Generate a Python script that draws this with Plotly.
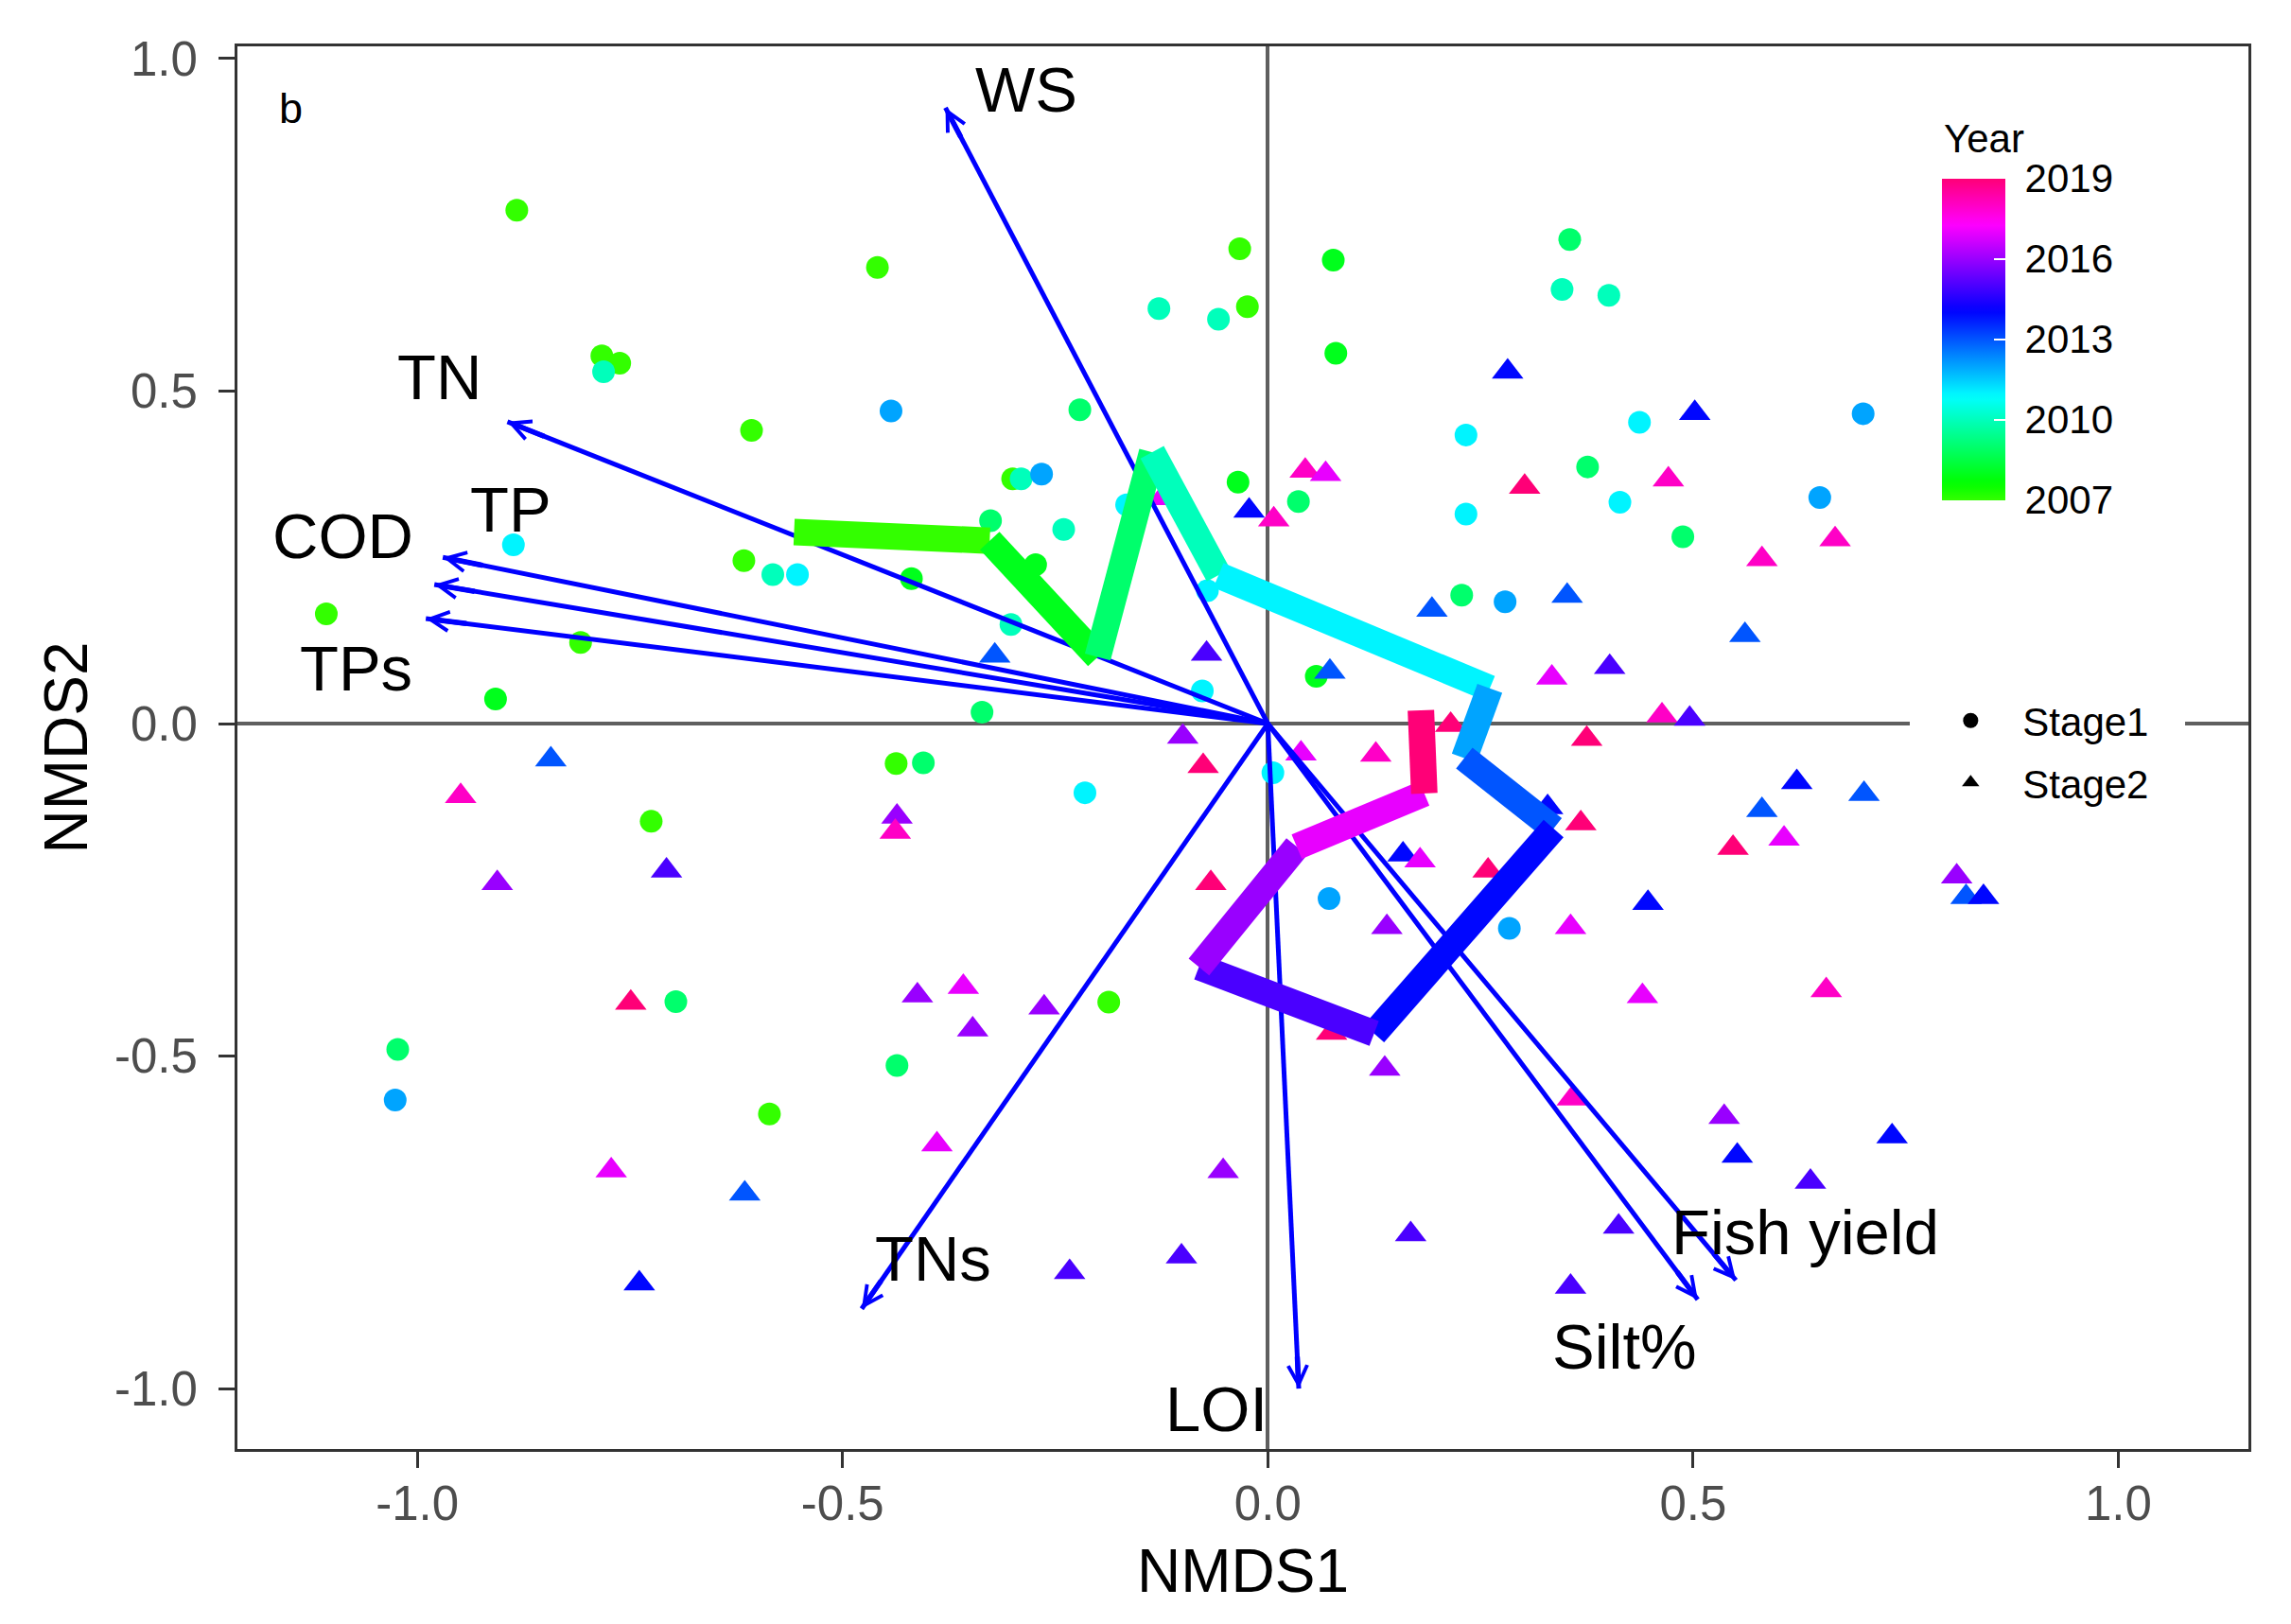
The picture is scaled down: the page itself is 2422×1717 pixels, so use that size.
import colorsys
import plotly.graph_objects as go

# ---------------- data ----------------
# Stage1 samples (circles)
s1_x = [-0.883, -0.459, -0.783, -0.762, -0.781, -0.443, -0.607, -0.033, 0.077, -0.128,
        -0.058, -0.024, 0.080, 0.355, 0.346, 0.233, -0.221, -0.035, -0.300, -0.290,
        -0.266, 0.036, 0.233, 0.376, -0.326, -0.166, -0.240, -0.273, -0.419, -0.302,
        -0.336, -0.077, -0.071, 0.057, 0.228, 0.279, 0.006, -0.215, -0.405, -0.437,
        0.072, 0.284, 0.401, 0.437, 0.700, 0.414, 0.649, 0.488, -0.887, -0.616,
        -0.582, -0.553, -1.107, -0.808, -0.908, -0.725, -0.696, -1.023, -1.026, -0.586,
        -0.436, -0.187]
s1_y = [0.772, 0.686, 0.553, 0.542, 0.529, 0.470, 0.441, 0.714, 0.697, 0.624,
        0.608, 0.627, 0.557, 0.728, 0.653, 0.434, 0.472, 0.363, 0.368, 0.368,
        0.375, 0.334, 0.315, 0.386, 0.305, 0.329, 0.292, 0.239, 0.218, 0.149,
        0.017, 0.049, 0.200, 0.071, 0.193, 0.183, -0.074, -0.104, -0.059, -0.060,
        -0.263, -0.308, 0.644, 0.453, 0.466, 0.333, 0.340, 0.281, 0.269, 0.245,
        0.224, 0.224, 0.165, 0.122, 0.037, -0.147, -0.418, -0.490, -0.566, -0.587,
        -0.514, -0.419]
s1_year = [2007, 2007, 2007, 2007, 2010, 2012, 2007, 2007, 2008, 2010,
           2010, 2007, 2008, 2009, 2010, 2011, 2009, 2008, 2007, 2010,
           2012, 2009, 2011, 2009, 2009, 2011, 2010, 2008, 2008, 2010,
           2009, 2011, 2011, 2008, 2009, 2012, 2011, 2011, 2009, 2007,
           2012, 2012, 2010, 2011, 2012, 2011, 2012, 2009, 2011, 2007,
           2010, 2011, 2007, 2007, 2008, 2007, 2009, 2009, 2012, 2007,
           2009, 2007]

# Stage2 samples (triangles)
s2_x = [0.282, 0.044, 0.068, 0.302, -0.022, -0.1245, 0.007, -0.321, -0.072, 0.073,
        0.193, 0.352, 0.334, 0.215, -0.100, -0.076, 0.039, 0.127, -0.067, 0.159,
        0.179, 0.259, 0.140, 0.356, 0.329, 0.368, 0.375, -0.436, -0.438, -0.843,
        -0.949, -0.906, -0.707, 0.667, 0.581, 0.561, 0.402, 0.4635, 0.496, 0.622,
        0.701, 0.581, 0.607, 0.547, 0.447, 0.810, 0.821, 0.8415, 0.502, 0.471,
        -0.749, -0.772, -0.615, -0.739, -0.412, -0.358, -0.263, -0.347, -0.389, -0.0525,
        -0.233, -0.1015, 0.1375, 0.075, 0.168, 0.356, 0.358, 0.4405, 0.6566, 0.5366,
        0.552, 0.734, 0.638, 0.4125]
s2_y = [0.529, 0.380, 0.375, 0.356, 0.320, 0.339, 0.307, 0.102, 0.105, 0.078,
        0.171, 0.192, 0.069, -0.002, -0.020, -0.064, -0.045, -0.047, -0.240, -0.197,
        -0.206, -0.221, -0.306, -0.306, -0.126, -0.150, -0.023, -0.140, -0.163, -0.054,
        -0.109, -0.240, -0.221, 0.277, 0.247, 0.133, 0.085, 0.012, 0.007, -0.088,
        -0.106, -0.130, -0.173, -0.187, -0.270, -0.230, -0.261, -0.261, 0.467, 0.367,
        -0.420, -0.672, -0.707, -0.842, -0.409, -0.396, -0.427, -0.460, -0.633, -0.673,
        -0.825, -0.8015, -0.519, -0.465, -0.768, -0.847, -0.564, -0.410, -0.401, -0.5915,
        -0.650, -0.621, -0.689, -0.7565]
s2_year = [2014, 2018, 2017, 2019, 2014, 2017, 2018, 2013, 2015, 2013,
           2013, 2013, 2017, 2019, 2016, 2019, 2017, 2018, 2019, 2014,
           2017, 2019, 2016, 2017, 2014, 2019, 2019, 2016, 2018, 2013,
           2018, 2016, 2015, 2018, 2018, 2013, 2015, 2018, 2015, 2014,
           2013, 2013, 2017, 2019, 2014, 2016, 2013, 2014, 2014, 2018,
           2019, 2017, 2013, 2014, 2016, 2017, 2016, 2016, 2017, 2016,
           2015, 2015, 2016, 2019, 2015, 2015, 2018, 2017, 2018, 2016,
           2014, 2014, 2015, 2015]

# yearly centroid trajectory
path_year = [2007, 2008, 2009, 2010, 2011, 2012, 2013, 2014, 2015, 2016, 2017, 2018, 2019]
path_x = [-0.557, -0.327, -0.200, -0.136, -0.058, 0.261, 0.231, 0.336, 0.125, -0.081, 0.034, 0.184, 0.180]
path_y = [0.288, 0.275, 0.100, 0.408, 0.223, 0.053, -0.052, -0.158, -0.466, -0.366, -0.185, -0.105, 0.020]
seg_color_year = [2007, 2008, 2009, 2010, 2011, 2012, 2013, 2014, 2015, 2016, 2017, 2019]

# environmental vectors
env_names = ["WS", "TN", "COD", "TP", "TPs", "TNs", "LOI", "Fish yield", "Silt%"]
env_x = [-0.379, -0.894, -0.970, -0.980, -0.990, -0.4775, 0.0364, 0.5504, 0.5055]
env_y = [0.926, 0.454, 0.250, 0.209, 0.158, -0.880, -1.000, -0.837, -0.866]
env_lab_x = [-0.2835, -0.974, -1.088, -0.890, -1.072, -0.3935, -0.060, 0.632, 0.419]
env_lab_y = [0.953, 0.522, 0.283, 0.322, 0.083, -0.805, -1.030, -0.764, -0.937]

axis_ticks = [-1.0, -0.5, 0.0, 0.5, 1.0]
axis_ticktext = ["-1.0", "-0.5", "0.0", "0.5", "1.0"]
year_ticks = [2007, 2010, 2013, 2016, 2019]

# ---------------- colours ----------------
YMIN, YMAX = 2007, 2019


def year_color(yr):
    t = (yr - YMIN) / (YMAX - YMIN)
    h = (108 + 224 * t) / 360.0
    r, g, b = colorsys.hsv_to_rgb(h, 1.0, 1.0)
    return "#%02x%02x%02x" % (round(r * 255), round(g * 255), round(b * 255))


colorscale = [[i / 48, year_color(YMIN + (YMAX - YMIN) * i / 48)] for i in range(49)]

FONT = "Liberation Sans, Arial, sans-serif"
NB = "\u00a0"
ARROW_BLUE = "#0000FF"

fig = go.Figure()

# points
fig.add_trace(go.Scatter(
    x=s1_x, y=s1_y, mode="markers", showlegend=False, hoverinfo="skip",
    marker=dict(symbol="circle", size=24, color=s1_year, coloraxis="coloraxis", line=dict(width=0))))
fig.add_trace(go.Scatter(
    x=s2_x, y=s2_y, mode="markers", showlegend=False, hoverinfo="skip",
    marker=dict(symbol="triangle-up", size=29, color=s2_year, coloraxis="coloraxis", line=dict(width=0))))

# vector shafts
for ex, ey in zip(env_x, env_y):
    fig.add_trace(go.Scatter(x=[0, ex], y=[0, ey], mode="lines", showlegend=False, hoverinfo="skip",
                             line=dict(color=ARROW_BLUE, width=5)))

# trajectory of yearly centroids
for i in range(len(path_x) - 1):
    fig.add_trace(go.Scatter(
        x=[path_x[i], path_x[i + 1]], y=[path_y[i], path_y[i + 1]], mode="lines",
        showlegend=False, hoverinfo="skip",
        line=dict(color=year_color(seg_color_year[i]), width=28)))

# legend entries
fig.add_trace(go.Scatter(x=[None], y=[None], mode="markers", name="Stage1", legendgroup="s1",
                         marker=dict(symbol="circle", size=22, color="black")))
fig.add_trace(go.Scatter(x=[None], y=[None], mode="markers", name="Stage2", legendgroup="s2",
                         marker=dict(symbol="triangle-up", size=24, color="black")))

annotations = []
# arrow heads
for ex, ey in zip(env_x, env_y):
    annotations.append(dict(
        x=ex, y=ey, ax=ex * 0.95, ay=ey * 0.95, xref="x", yref="y", axref="x", ayref="y",
        text="", showarrow=True, arrowhead=5, arrowsize=0.72, arrowwidth=5.5,
        arrowcolor=ARROW_BLUE, standoff=0))
# vector labels
for name, lx, ly in zip(env_names, env_lab_x, env_lab_y):
    annotations.append(dict(x=lx, y=ly, xref="x", yref="y", text=name, showarrow=False,
                            xanchor="center", yanchor="middle",
                            font=dict(family=FONT, size=67, color="black")))
# panel tag
annotations.append(dict(x=-1.1486, y=0.925, xref="x", yref="y", text="b", showarrow=False,
                        xanchor="center", yanchor="middle",
                        font=dict(family=FONT, size=45, color="black")))
# colour bar title
annotations.append(dict(x=0.8478, y=0.9343, xref="paper", yref="paper", text="Year",
                        showarrow=False, xanchor="left", yanchor="middle",
                        font=dict(family=FONT, size=42, color="black")))

# white legend box (hides the zero line behind the legend, as in the original)
shapes = [dict(type="rect", xref="paper", yref="paper", x0=0.8316, x1=0.9685, y0=0.4497, y1=0.549,
               fillcolor="white", line=dict(width=0), layer="above")]

axis_common = dict(
    tickmode="array", tickvals=axis_ticks, ticktext=axis_ticktext,
    ticks="outside", ticklen=17, tickwidth=3, tickcolor="#333333",
    showline=True, linecolor="#333333", linewidth=3, mirror=True,
    showgrid=False, zeroline=True, zerolinecolor="#5f5f5f", zerolinewidth=3.5,
    tickfont=dict(family=FONT, size=51, color="#4D4D4D"),
    automargin=False,
)

fig.update_layout(
    width=2406, height=1701,
    margin=dict(l=243, r=37, t=41, b=177),
    paper_bgcolor="white", plot_bgcolor="white",
    font=dict(family=FONT, color="black"),
    xaxis=dict(range=[-1.2115, 1.153], ticklabelstandoff=-6,
               title=dict(text="NMDS1", font=dict(family=FONT, size=64, color="black"), standoff=21),
               **axis_common),
    yaxis=dict(range=[-1.0909, 1.0184], ticklabelstandoff=12,
               title=dict(text="NMDS2", font=dict(family=FONT, size=64, color="black"), standoff=8),
               **axis_common),
    coloraxis=dict(
        colorscale=colorscale, cmin=YMIN, cmax=YMAX,
        colorbar=dict(
            x=0.8478, xanchor="left", y=0.9058, yanchor="top",
            len=340, lenmode="pixels", thickness=67, thicknessmode="pixels",
            xpad=0, ypad=0, outlinewidth=0,
            tickmode="array", tickvals=year_ticks, ticktext=[NB + str(v) for v in year_ticks],
            ticks="inside", ticklen=12, tickwidth=2, tickcolor="white",
            tickfont=dict(family=FONT, size=42, color="black"),
        ),
    ),
    legend=dict(x=0.836, xanchor="left", y=0.497, yanchor="middle", bgcolor="white",
                font=dict(family=FONT, size=42, color="black"), itemwidth=100,
                borderwidth=0, tracegroupgap=8),
    shapes=shapes,
    annotations=annotations,
)

fig.write_html("out.html")
